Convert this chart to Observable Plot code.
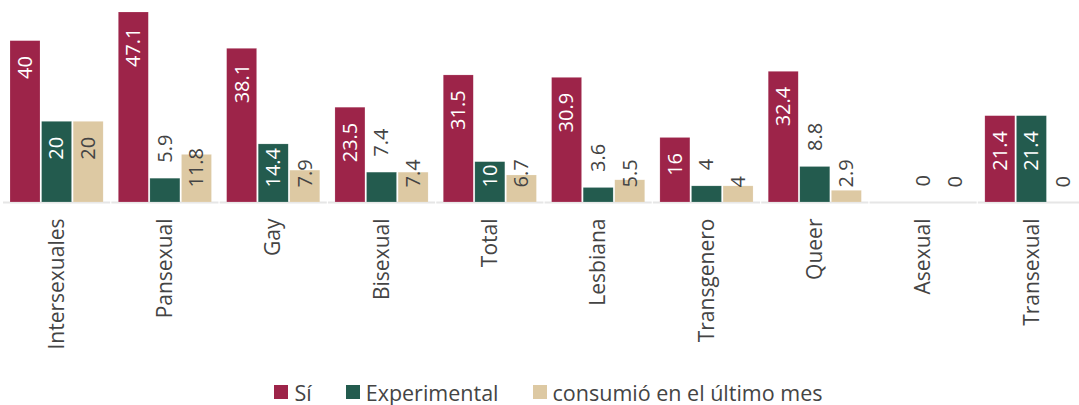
<!DOCTYPE html>
<html><head><meta charset="utf-8">
<script src="https://cdn.jsdelivr.net/npm/d3@7"></script>
<script src="https://cdn.jsdelivr.net/npm/@observablehq/plot@0.6"></script>
<style>
body{margin:0;background:#fff;font-family:'Open Sans',sans-serif;}
#chart svg{display:block;}
#legend{display:flex;justify-content:center;align-items:center;height:40px;margin-top:12px;padding-left:18px;font-size:21.5px;color:#444;}
#legend .item{display:flex;align-items:center;margin:0 17px;}
#legend .sw{width:14px;height:14px;margin-right:6px;}
</style>
</head><body><div id="chart"></div><div id="legend"></div><script>
const categories = ["Intersexuales","Pansexual","Gay","Bisexual","Total","Lesbiana","Transgenero","Queer","Asexual","Transexual"];
const series = ["Sí","Experimental","consumió en el último mes"];
const si = [40,47.1,38.1,23.5,31.5,30.9,16,32.4,null,21.4];
const experimental = [20,5.9,14.4,7.4,10,3.6,4,8.8,0,21.4];
const consumo = [20,11.8,7.9,7.4,6.7,5.5,4,2.9,0,0];
const colors = ["#9D2449","#235B4E","#DDC9A3"];

const W = 1079, H = 360, MT = 12, MB = 158;
const FONT = "'Open Sans', sans-serif";
const VAL_SIZE = 20;
const yMax = 47.1;

const rows = categories.flatMap((c, i) => [si, experimental, consumo].map((arr, j) => ({cat: c, serie: series[j], value: arr[i]}))).filter(d => d.value != null);

const ys = Plot.scale({y: {domain: [0, yMax], range: [H - MB, MT]}});
const base = ys.apply(0);
const ctx = document.createElement("canvas").getContext("2d");
ctx.font = `${VAL_SIZE}px ${FONT}`;
const labels = rows.map(d => {
  const txt = String(d.value);
  const len = ctx.measureText(txt).width;
  const top = ys.apply(d.value);
  let start = Math.min(top + 15 + len, base - 15);
  let fill = d.serie === series[2] ? "#444" : "#fff";
  if (d.serie !== series[2] && start - len < top + 1) { start = top - 16; fill = "#444"; }
  return {...d, txt, ypos: ys.invert(start), fill};
});

const chart = Plot.plot({
  width: W, height: H, marginTop: MT, marginBottom: MB, marginLeft: 10, marginRight: 1,
  style: {fontFamily: FONT, fontSize: "21px", color: "#444", background: "#fff"},
  fx: {domain: categories, paddingInner: 0.14, paddingOuter: 0, round: false, axis: "bottom", tickRotate: -90, tickSize: 0, tickPadding: 16, label: null},
  x: {domain: series, axis: null, paddingInner: 0.05, paddingOuter: 0, round: false},
  y: {domain: [0, yMax], axis: null},
  color: {domain: series, range: colors},
  marks: [
    Plot.ruleY([0], {stroke: "#e6e6e6", strokeWidth: 2, insetLeft: -7, insetRight: -7}),
    Plot.barY(rows, {fx: "cat", x: "serie", y: "value", fill: "serie", stroke: "#fff", strokeOpacity: 0.35, strokeWidth: 0.5}),
    Plot.text(labels, {fx: "cat", x: "serie", y: "ypos", text: "txt", rotate: -90, textAnchor: "start", fill: "fill", fontSize: VAL_SIZE})
  ]
});
document.getElementById("chart").appendChild(chart);

const leg = document.getElementById("legend");
series.forEach((s, i) => {
  const it = document.createElement("div"); it.className = "item";
  const sw = document.createElement("span"); sw.className = "sw"; sw.style.background = colors[i];
  const t = document.createElement("span"); t.textContent = s;
  it.appendChild(sw); it.appendChild(t); leg.appendChild(it);
});
</script></body></html>
